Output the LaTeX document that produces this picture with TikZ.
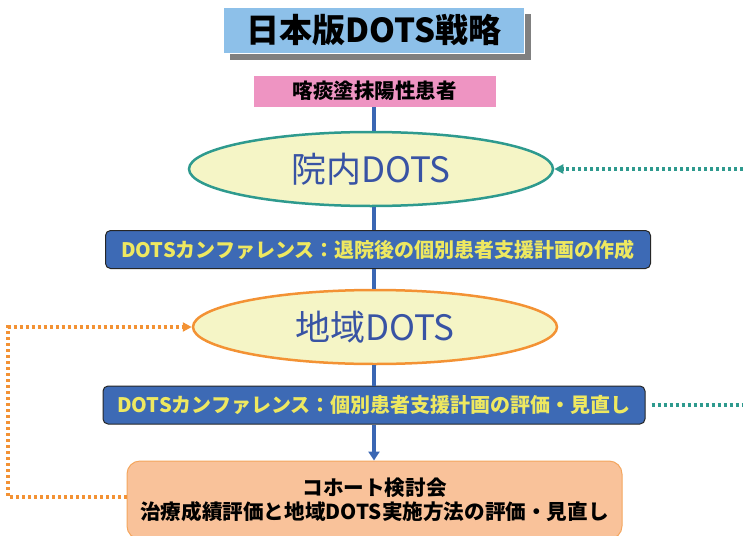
\documentclass[tikz,border=0pt]{standalone}
\usepackage{fontspec}
\setmainfont{Noto Sans CJK JP}
\usetikzlibrary{shapes.geometric,arrows.meta,shadows}
\definecolor{titleblue}{HTML}{8DC0E9}
\definecolor{pinkfill}{HTML}{EE94C2}
\definecolor{tealc}{HTML}{2E9A8E}
\definecolor{ellfill}{HTML}{F5F5C6}
\definecolor{elltext}{HTML}{3853A4}
\definecolor{boxblue}{HTML}{3D6AB5}
\definecolor{boxtext}{HTML}{EEE860}
\definecolor{orangec}{HTML}{F39234}
\definecolor{cohortfill}{HTML}{F9C29A}
\definecolor{cohortdraw}{HTML}{F4A65E}
\definecolor{lineblue}{HTML}{3A67B4}
\begin{document}
\begin{tikzpicture}[x=1pt,y=-1pt,
  titlebox/.style={fill=titleblue, draw=white, line width=0.8pt, minimum width=301pt, minimum height=46pt, inner sep=0pt,
    font=\bfseries\fontsize{33}{33}\selectfont,
    drop shadow={shadow xshift=6pt, shadow yshift=-7pt, fill=black!50, opacity=1}},
  pinkbox/.style={fill=pinkfill, draw=white, line width=0.6pt, minimum width=243pt, minimum height=32pt, inner sep=0pt,
    font=\bfseries\fontsize{20.5}{20.5}\selectfont},
  ell/.style={ellipse, line width=2.5pt, fill=ellfill, minimum width=364pt, minimum height=74pt, inner sep=0pt,
    text=elltext, font=\fontsize{35}{35}\selectfont},
  confbox/.style={rounded corners=5pt, fill=boxblue, draw=black!85, line width=1pt, minimum height=38pt, inner sep=0pt,
    text=boxtext, font=\bfseries\fontsize{20}{20}\selectfont},
  cohortbox/.style={rounded corners=13pt, fill=cohortfill, draw=cohortdraw, line width=1pt, minimum width=495pt, minimum height=78pt,
    inner sep=0pt, align=center, font=\bfseries\fontsize{20.6}{24.5}\selectfont},
  bline/.style={draw=lineblue, line width=4pt},
  tealdot/.style={draw=tealc, line width=3.2pt, dash pattern=on 3pt off 3pt},
  orangedot/.style={draw=orangec, line width=3.2pt, dash pattern=on 3pt off 3pt},
  tip/.style={-{Triangle[length=9pt,width=9pt]}}
]
\useasboundingbox (0,0) rectangle (743,535);

\node[titlebox] (title) at (374,30) {日本版DOTS戦略};
\node[pinkbox] (pink) at (374.5,91) {喀痰塗抹陽性患者};
\node[ell, draw=tealc] (e1) at (371,169) {院内DOTS};
\node[confbox, minimum width=545pt] (c1) at (378,249.5) {DOTSカンファレンス：退院後の個別患者支援計画の作成};
\node[ell, draw=orangec] (e2) at (375,327) {地域DOTS};
\node[confbox, minimum width=542pt] (c2) at (374,405) {DOTSカンファレンス：個別患者支援計画の評価・見直し};
\node[cohortbox] (cohort) at (374.5,500) {コホート検討会\\治療成績評価と地域DOTS実施方法の評価・見直し};

\coordinate (tealin) at (743,169);
\coordinate (tealout) at (743,405);
\coordinate (oleft) at (8,400);
\coordinate (cw) at ([yshift=3pt]cohort.west);

\draw[bline] (pink.south -| 374,0) -- (e1.north -| 374,0);
\draw[bline] (e1.south -| 374,0) -- (c1.north -| 374,0);
\draw[bline] (c1.south -| 374,0) -- (e2.north -| 374,0);
\draw[bline] (e2.south -| 374,0) -- (c2.north -| 374,0);
\draw[bline, -{Triangle[length=9pt,width=11pt]}] (c2.south -| 374,0) -- (cohort.north -| 374,0);

\draw[tealdot, tip] (tealin |- e1.east) -- (e1.east);
\draw[tealdot] ([xshift=6pt]c2.east) -- (tealout |- c2.east);
\draw[orangedot, tip] (cw) -- (oleft |- cw) -- (oleft |- e2.west) -- (e2.west);
\end{tikzpicture}
\end{document}
